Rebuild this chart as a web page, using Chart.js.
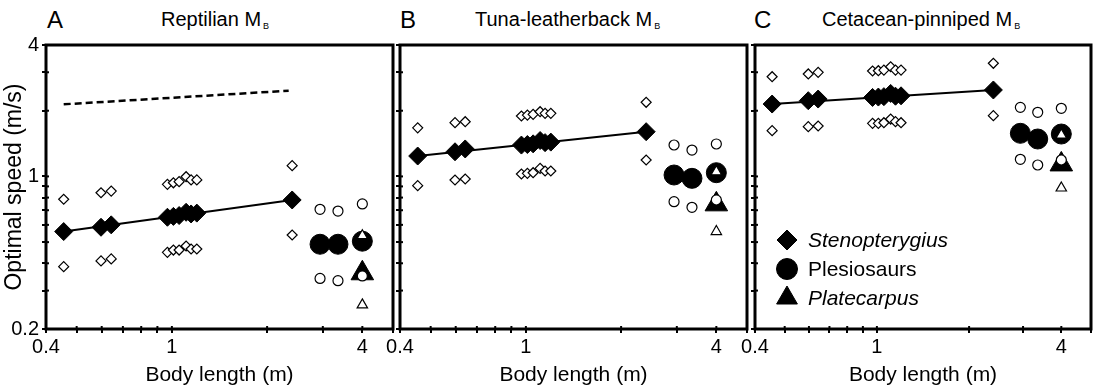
<!DOCTYPE html>
<html>
<head>
<meta charset="utf-8">
<script src="https://cdn.jsdelivr.net/npm/chart.js@4.4.1/dist/chart.umd.min.js"></script>
<style>
  body { margin: 0; background: #fff; width: 1105px; height: 390px; overflow: hidden; position: relative;
         font-family: "Liberation Sans", Arial, Helvetica, sans-serif; color: #000; }
  canvas { position: absolute; left: 0; top: 0; }
  .letter { position: absolute; top: 8px; font-size: 24px; line-height: 1; }
  .title { position: absolute; top: 9px; font-size: 20px; line-height: 1; white-space: nowrap; }
  .title sub { font-size: 9px; vertical-align: -3px; margin-left: 2px; }
</style>
</head>
<body>
<div class="letter" style="left:47px">A</div>
<div class="title" style="left:161px">Reptilian M<sub>B</sub></div>
<div class="letter" style="left:400px">B</div>
<div class="title" style="left:475px">Tuna-leatherback M<sub>B</sub></div>
<div class="letter" style="left:754px">C</div>
<div class="title" style="left:822px">Cetacean-pinniped M<sub>B</sub></div>
<canvas id="chartA" width="1105" height="390"></canvas>
<canvas id="chartB" width="1105" height="390"></canvas>
<canvas id="chartC" width="1105" height="390"></canvas>
<script>
// axis ticks
const lengthTicks = [0.4, 0.5, 0.6, 0.7, 0.8, 0.9, 1, 2, 3, 4, 5];
const lengthLabels = [0.4, 1, 4];
const speedTicks = [0.2, 0.3, 0.4, 0.5, 0.6, 0.7, 0.8, 0.9, 1, 2, 3, 4];
const speedLabels = [0.2, 1, 4];

// body lengths (m)
const stenoLength = [0.455, 0.597, 0.643, 0.968, 1.011, 1.054, 1.109, 1.150, 1.199, 2.40];
const plesioLength = [2.94, 3.35, 4.0];
const plateLength = [4.0];
const fitLength = [0.455, 2.40];
const dashLength = [0.455, 2.34];

// A: Reptilian MB
const stenoMeanA = [0.559, 0.585, 0.600, 0.650, 0.656, 0.662, 0.685, 0.673, 0.679, 0.780];
const stenoHighA = [0.786, 0.842, 0.857, 0.920, 0.935, 0.946, 0.997, 0.964, 0.964, 1.12];
const stenoLowA  = [0.386, 0.410, 0.419, 0.449, 0.460, 0.460, 0.480, 0.465, 0.465, 0.539];
const plesioMeanA = [0.489, 0.489, 0.505];
const plesioHighA = [0.707, 0.694, 0.748];
const plesioLowA  = [0.341, 0.333, 0.350];
const plateMeanA = [0.36];
const plateHighA = [0.535];
const plateLowA  = [0.258];
const fitA = [0.559, 0.780];
const dashA = [2.14, 2.47];

// B: Tuna-leatherback MB
const stenoMeanB = [1.24, 1.297, 1.336, 1.392, 1.40, 1.41, 1.46, 1.428, 1.436, 1.603];
const stenoHighB = [1.67, 1.763, 1.781, 1.892, 1.910, 1.925, 1.979, 1.946, 1.946, 2.186];
const stenoLowB  = [0.907, 0.963, 0.973, 1.026, 1.033, 1.040, 1.089, 1.059, 1.059, 1.189];
const plesioMeanB = [1.015, 0.980, 1.04];
const plesioHighB = [1.393, 1.321, 1.408];
const plesioLowB  = [0.766, 0.722, 0.780];
const plateMeanB = [0.745];
const plateHighB = [1.05];
const plateLowB  = [0.559];
const fitB = [1.24, 1.603];

// C: Cetacean-pinniped MB
const stenoMeanC = [2.146, 2.223, 2.262, 2.30, 2.31, 2.32, 2.40, 2.33, 2.34, 2.489];
const stenoHighC = [2.863, 2.947, 2.998, 3.04, 3.05, 3.07, 3.18, 3.07, 3.07, 3.298];
const stenoLowC  = [1.62, 1.690, 1.702, 1.751, 1.751, 1.762, 1.832, 1.782, 1.762, 1.898];
const plesioMeanC = [1.576, 1.484, 1.564];
const plesioHighC = [2.072, 1.967, 2.051];
const plesioLowC  = [1.198, 1.128, 1.189];
const plateMeanC = [1.135];
const plateHighC = [1.548];
const plateLowC  = [0.885];
const fitC = [2.146, 2.489];

const FONT = '"Liberation Sans", Arial, Helvetica, sans-serif';
const legendItems = [
  { style: 'rectRot', radius: 10, text: 'Stenopterygius', italic: true },
  { style: 'circle', radius: 10.5, text: 'Plesiosaurs', italic: false },
  { style: 'triangle', radius: 12, text: 'Platecarpus', italic: true },
];

function pts(xs, ys) {
  return ys.map((y, i) => ({ x: xs[i], y: y }));
}

const framePlugin = {
  id: 'frame',
  afterDatasetsDraw(chart) {
    const { ctx, chartArea: a } = chart;
    ctx.save();
    ctx.strokeStyle = '#000';
    ctx.lineWidth = 3;
    ctx.strokeRect(a.left, a.top, a.right - a.left, a.bottom - a.top);
    // inner half of the tick marks
    ctx.lineWidth = 2;
    const xs = chart.scales.x, ys = chart.scales.y;
    xs.ticks.forEach(t => {
      const px = xs.getPixelForValue(t.value);
      ctx.beginPath(); ctx.moveTo(px, a.bottom); ctx.lineTo(px, a.bottom - 3); ctx.stroke();
    });
    ys.ticks.forEach(t => {
      const py = ys.getPixelForValue(t.value);
      ctx.beginPath(); ctx.moveTo(a.left, py); ctx.lineTo(a.left + 3, py); ctx.stroke();
    });
    ctx.restore();
  }
};

const legendPlugin = {
  id: 'speciesLegend',
  afterDraw(chart, args, opts) {
    if (!opts.show) return;
    const { ctx, chartArea: a } = chart;
    ctx.save();
    legendItems.forEach((item, i) => {
      const cx = a.left + 32;
      const cy = a.top + 195 + i * 29;
      ctx.fillStyle = '#000';
      ctx.strokeStyle = '#000';
      ctx.lineWidth = 1;
      Chart.helpers.drawPoint(ctx, { pointStyle: item.style, radius: item.radius, rotation: 0, borderWidth: 1 }, cx, cy);
      ctx.font = (item.italic ? 'italic ' : '') + '21px ' + FONT;
      ctx.textBaseline = 'middle';
      ctx.textAlign = 'left';
      ctx.fillText(item.text, a.left + 53, cy + 1);
    });
    ctx.restore();
  }
};

function makeChart(id, p) {
  const datasets = [
    { data: pts(fitLength, p.fit), showLine: true, borderColor: '#000', borderWidth: 2, pointRadius: 0, order: 10 },
    { data: pts(stenoLength, p.stenoMean), pointStyle: 'rectRot', pointRadius: 9, pointBackgroundColor: '#000', pointBorderColor: '#000', pointBorderWidth: 1, order: 5 },
    { data: pts(stenoLength, p.stenoHigh), pointStyle: 'rectRot', pointRadius: 5, pointBackgroundColor: '#fff', pointBorderColor: '#000', pointBorderWidth: 1.2, order: 1 },
    { data: pts(stenoLength, p.stenoLow), pointStyle: 'rectRot', pointRadius: 5, pointBackgroundColor: '#fff', pointBorderColor: '#000', pointBorderWidth: 1.2, order: 1 },
    { data: pts(plesioLength, p.plesioMean), pointStyle: 'circle', pointRadius: 10, pointBackgroundColor: '#000', pointBorderColor: '#000', pointBorderWidth: 1, order: 5 },
    { data: pts(plesioLength, p.plesioHigh), pointStyle: 'circle', pointRadius: 5, pointBackgroundColor: '#fff', pointBorderColor: '#000', pointBorderWidth: 1.2, order: 1 },
    { data: pts(plesioLength, p.plesioLow), pointStyle: 'circle', pointRadius: 5, pointBackgroundColor: '#fff', pointBorderColor: '#000', pointBorderWidth: 1.2, order: 1 },
    { data: pts(plateLength, p.plateMean), pointStyle: 'triangle', pointRadius: 13, pointBackgroundColor: '#000', pointBorderColor: '#000', pointBorderWidth: 1, order: 5 },
    { data: pts(plateLength, p.plateHigh), pointStyle: 'triangle', pointRadius: 6, pointBackgroundColor: '#fff', pointBorderColor: '#000', pointBorderWidth: 1.2, order: 1 },
    { data: pts(plateLength, p.plateLow), pointStyle: 'triangle', pointRadius: 6, pointBackgroundColor: '#fff', pointBorderColor: '#000', pointBorderWidth: 1.2, order: 1 },
  ];
  if (p.dash) {
    datasets.push({ data: pts(dashLength, p.dash), showLine: true, borderColor: '#000', borderWidth: 2.5, borderDash: [7, 4], pointRadius: 0, order: 10 });
  }

  return new Chart(document.getElementById(id), {
    type: 'scatter',
    data: { datasets },
    options: {
      responsive: false,
      animation: false,
      events: [],
      layout: { padding: { left: p.left - p.yWidth, right: 1105 - p.right, top: 45, bottom: 0 } },
      plugins: {
        legend: { display: false },
        tooltip: { enabled: false },
        speciesLegend: { show: !!p.legend },
      },
      scales: {
        x: {
          type: 'logarithmic',
          min: 0.4,
          max: 5,
          afterBuildTicks: (s) => { s.ticks = lengthTicks.map(v => ({ value: v })); },
          afterFit: (s) => { s.height = 61; },
          ticks: {
            autoSkip: false, maxRotation: 0, padding: 2, color: '#000',
            font: { family: FONT, size: 20 },
            callback: (v) => lengthLabels.includes(v) ? String(v) : '',
          },
          grid: { display: true, drawOnChartArea: false, drawTicks: true, tickLength: 4, color: '#000', lineWidth: 2 },
          border: { display: false },
          title: { display: true, text: 'Body length (m)', color: '#000', font: { family: FONT, size: 21 }, padding: { top: 0, bottom: 2 } },
        },
        y: {
          type: 'logarithmic',
          min: 0.2,
          max: 4,
          afterBuildTicks: (s) => { s.ticks = speedTicks.map(v => ({ value: v })); },
          afterFit: (s) => { s.width = p.yWidth; },
          ticks: {
            autoSkip: false, padding: 3, color: '#000',
            font: { family: FONT, size: 20 },
            callback: (v) => (p.yLabels && speedLabels.includes(v)) ? String(v) : '',
          },
          grid: { display: true, drawOnChartArea: false, drawTicks: true, tickLength: 4, color: '#000', lineWidth: 2 },
          border: { display: false },
          title: { display: !!p.yLabels, text: 'Optimal speed (m/s)', color: '#000', font: { family: FONT, size: 23 }, padding: { top: 1, bottom: 0 } },
        },
      },
    },
    plugins: [framePlugin, legendPlugin],
  });
}

makeChart('chartA', {
  left: 46, right: 393, yWidth: 46, yLabels: true,
  stenoMean: stenoMeanA, stenoHigh: stenoHighA, stenoLow: stenoLowA,
  plesioMean: plesioMeanA, plesioHigh: plesioHighA, plesioLow: plesioLowA,
  plateMean: plateMeanA, plateHigh: plateHighA, plateLow: plateLowA,
  fit: fitA, dash: dashA,
});
makeChart('chartB', {
  left: 400, right: 747, yWidth: 10, yLabels: false,
  stenoMean: stenoMeanB, stenoHigh: stenoHighB, stenoLow: stenoLowB,
  plesioMean: plesioMeanB, plesioHigh: plesioHighB, plesioLow: plesioLowB,
  plateMean: plateMeanB, plateHigh: plateHighB, plateLow: plateLowB,
  fit: fitB,
});
makeChart('chartC', {
  left: 755, right: 1103, yWidth: 10, yLabels: false, legend: true,
  stenoMean: stenoMeanC, stenoHigh: stenoHighC, stenoLow: stenoLowC,
  plesioMean: plesioMeanC, plesioHigh: plesioHighC, plesioLow: plesioLowC,
  plateMean: plateMeanC, plateHigh: plateHighC, plateLow: plateLowC,
  fit: fitC,
});
</script>
</body>
</html>
